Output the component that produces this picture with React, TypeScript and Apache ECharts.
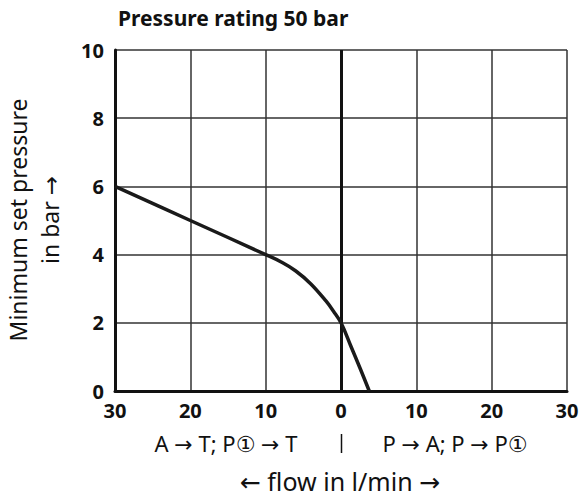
import React, { useEffect, useRef } from "react";
import * as echarts from "echarts";

const xTicks = [-30, -20, -10, 0, 10, 20, 30];
const yTicks = [0, 2, 4, 6, 8, 10];
const curveFlow = [-30, -20, -10, -8, -6, -4, -2, -1, 0, 1.3, 2.6, 3.75];
const curvePressure = [6, 5, 4, 3.79, 3.52, 3.14, 2.64, 2.34, 2, 1.32, 0.63, 0];
const title = "Pressure rating 50 bar";
const yName1 = "Minimum set pressure";
const yName2 = "in bar →";
const leftLabel = "A → T; P① → T";
const rightLabel = "P → A; P → P①";
const flowLabel = "← flow in l/min →";

const FONT = "'Noto Sans', 'DejaVu Sans', sans-serif";

export default function App() {
  const ref = useRef<HTMLDivElement>(null);
  useEffect(() => {
    if (!ref.current) return;
    const chart = echarts.init(ref.current, undefined, { renderer: "svg" });
    const data = curveFlow.map((x, i) => [x, curvePressure[i]]);
    chart.setOption({
      animation: false,
      backgroundColor: "#fff",
      grid: { left: 115, right: 15, top: 50, bottom: 109, containLabel: false },
      xAxis: {
        type: "value",
        min: xTicks[0],
        max: xTicks[xTicks.length - 1],
        interval: 10,
        axisLine: { show: true, onZero: false, lineStyle: { color: "#111", width: 3 } },
        axisTick: { show: false },
        axisLabel: {
          formatter: (v: number) => String(Math.abs(v)),
          color: "#111",
          fontFamily: FONT,
          fontWeight: "bold",
          fontSize: 20,
          margin: 9,
        },
        splitLine: { show: true, lineStyle: { color: "#333", width: 1.5 } },
      },
      yAxis: {
        type: "value",
        min: yTicks[0],
        max: yTicks[yTicks.length - 1],
        interval: 2,
        axisLine: { show: true, onZero: false, lineStyle: { color: "#111", width: 3 } },
        axisTick: { show: false },
        axisLabel: {
          color: "#111",
          fontFamily: FONT,
          fontWeight: "bold",
          fontSize: 20,
          margin: 11,
        },
        splitLine: { show: true, lineStyle: { color: "#333", width: 1.5 } },
      },
      graphic: [
        {
          type: "text",
          x: 118,
          y: 18,
          style: { text: title, fontFamily: FONT, fontWeight: "bold", fontSize: 21, fill: "#111", verticalAlign: "middle" },
        },
        {
          type: "text",
          x: 18,
          y: 220,
          rotation: Math.PI / 2,
          style: {
            text: yName1,
            fontFamily: FONT,
            fontSize: 23,
            fill: "#111",
            align: "center",
            verticalAlign: "middle",
          },
        },
        {
          type: "text",
          x: 50,
          y: 220,
          rotation: Math.PI / 2,
          style: {
            text: yName2,
            fontFamily: FONT,
            fontSize: 23,
            fill: "#111",
            align: "center",
            verticalAlign: "middle",
          },
        },
        {
          type: "text",
          x: 226,
          y: 443,
          style: { text: leftLabel, fontFamily: FONT, fontSize: 22, fill: "#111", align: "center", verticalAlign: "middle" },
        },
        {
          type: "line",
          shape: { x1: 341.5, y1: 434, x2: 341.5, y2: 453 },
          style: { stroke: "#111", lineWidth: 1.5 },
        },
        {
          type: "text",
          x: 455,
          y: 443,
          style: { text: rightLabel, fontFamily: FONT, fontSize: 22, fill: "#111", align: "center", verticalAlign: "middle" },
        },
        {
          type: "text",
          x: 340,
          y: 481,
          style: { text: flowLabel, fontFamily: FONT, fontSize: 25, fill: "#111", align: "center", verticalAlign: "middle" },
        },
      ],
      series: [
        {
          type: "line",
          data,
          smooth: 0.4,
          symbol: "none",
          lineStyle: { color: "#1a1a1a", width: 3.5 },
          z: 5,
          markLine: {
            silent: true,
            symbol: "none",
            label: { show: false },
            lineStyle: { color: "#111", width: 3, type: "solid" },
            data: [{ xAxis: 0 }],
          },
        },
      ],
    });
    return () => chart.dispose();
  }, []);
  return <div ref={ref} style={{ width: 582, height: 500, position: "absolute", left: 0, top: 0 }} />;
}
